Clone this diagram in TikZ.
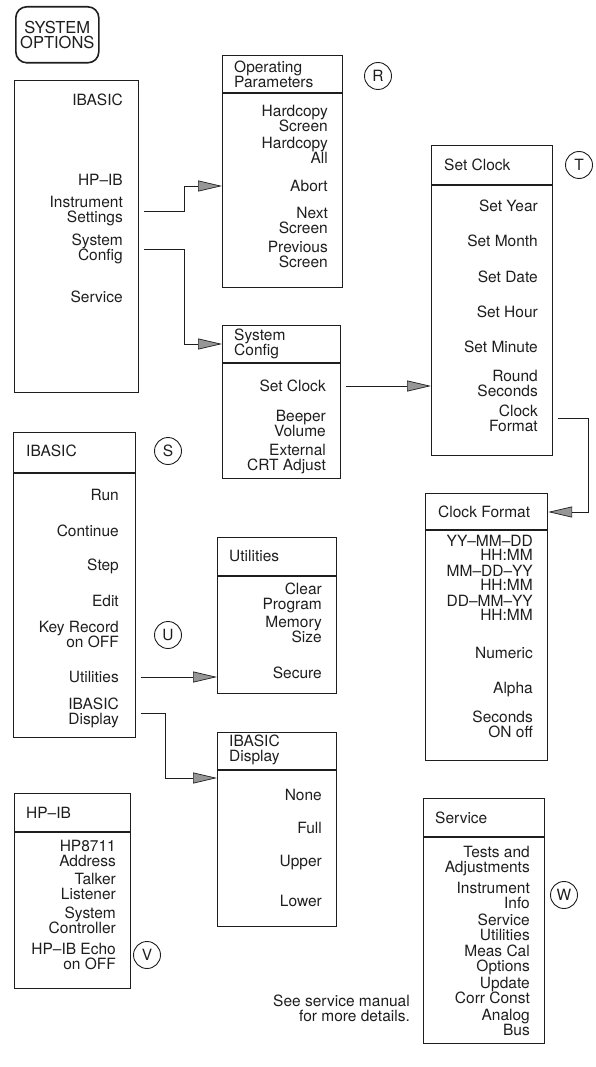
\documentclass[tikz,border=0pt]{standalone}
\usepackage{fontspec}
\setmainfont{TeX Gyre Heros}
\usepackage{tikz}
\usetikzlibrary{positioning, arrows.meta, shapes}
\definecolor{tinta}{RGB}{30, 30, 30}
\definecolor{trama}{RGB}{150, 150, 150}
\tikzset{
    menu/.style={draw=tinta, line width=1.2pt, rectangle, anchor=north west, inner sep=0pt},
    menuopt/.style={draw=tinta, line width=1.6pt, rectangle, rounded corners=11pt, anchor=north west, inner sep=0pt, align=center, text=tinta, font=\fontsize{16.5}{15.5}\selectfont},
    head/.style={anchor=west, inner sep=0pt, align=left, text=tinta},
    item/.style={anchor=east, inner sep=0pt, align=right, text=tinta},
    tight/.style={item, font=\fontsize{15.5}{14}\selectfont},
    tag/.style={draw=tinta, circle, line width=0.9pt, minimum size=27pt, inner sep=0pt, text=tinta},
    sep/.style={draw=tinta, line width=1.2pt},
    conn/.style={draw=tinta, line width=0.7pt, -{Triangle[length=24pt, width=11pt, fill=trama]}},
}
\begin{document}
\begin{tikzpicture}[x=1pt, y=-1pt, font=\fontsize{15.5}{15}\selectfont]
    \useasboundingbox (0,0) rectangle (596,1067);

    \node[menuopt, minimum width=83pt, minimum height=56pt] (opt) at (15,6) {SYSTEM\\OPTIONS};

    \node[menu, minimum width=124pt, minimum height=312pt] (main) at (14,80) {};
    \node[item] (maina) at (123,100) {IBASIC};
    \node[item] (mainb) at (123,180) {HP--IB};
    \node[item] (mainc) at (123,211) {Instrument\\Settings};
    \node[item] (maind) at (123,249) {System\\Config};
    \node[item] (maine) at (123,297) {Service};

    \node[menu, minimum width=120pt, minimum height=232pt] (op) at (222,55) {};
    \draw[sep] ([yshift=-38pt]op.north west) -- ([yshift=-38pt]op.north east);
    \node[head] (oph) at (234,74) {Operating\\Parameters};
    \node[item] (opa) at (328,118) {Hardcopy\\Screen};
    \node[item] (opb) at (328,150) {Hardcopy\\All};
    \node[item] (opc) at (328,186) {Abort};
    \node[item] (opd) at (328,220) {Next\\Screen};
    \node[item] (ope) at (328,254) {Previous\\Screen};
    \node[tag] (tagr) at (378,76) {R};

    \node[menu, minimum width=118pt, minimum height=153pt] (sc) at (222,325) {};
    \draw[sep] ([yshift=-38pt]sc.north west) -- ([yshift=-38pt]sc.north east);
    \node[head] (sch) at (234,344) {System\\Config};
    \node[item] (sca) at (326,386) {Set Clock};
    \node[item] (scb) at (326,423) {Beeper\\Volume};
    \node[item] (scc) at (326,459) {External\\CRT Adjust};

    \node[menu, minimum width=121pt, minimum height=310pt] (clk) at (431,145) {};
    \draw[sep] ([yshift=-40pt]clk.north west) -- ([yshift=-40pt]clk.north east);
    \node[head] (clkh) at (444,165) {Set Clock};
    \node[item] (clka) at (538,206) {Set Year};
    \node[item] (clkb) at (538,241) {Set Month};
    \node[item] (clkc) at (538,277) {Set Date};
    \node[item] (clkd) at (538,312) {Set Hour};
    \node[item] (clke) at (538,347) {Set Minute};
    \node[item] (clkf) at (538,383) {Round\\Seconds};
    \node[item] (clkg) at (538,418) {Clock\\Format};
    \node[tag] (tagt) at (579,165) {T};

    \node[menu, minimum width=122pt, minimum height=267pt] (cf) at (425,493) {};
    \draw[sep] ([yshift=-37pt]cf.north west) -- ([yshift=-37pt]cf.north east);
    \node[head] (cfh) at (438,512) {Clock Format};
    \node[tight] (cfa) at (533,548) {YY--MM--DD\\HH:MM};
    \node[tight] (cfb) at (533,578) {MM--DD--YY\\HH:MM};
    \node[tight] (cfc) at (533,608) {DD--MM--YY\\HH:MM};
    \node[item] (cfd) at (533,653) {Numeric};
    \node[item] (cfe) at (533,690) {Alpha};
    \node[item] (cff) at (533,724) {Seconds\\ON off};

    \node[menu, minimum width=122pt, minimum height=305pt] (ib) at (13,432) {};
    \draw[sep] ([yshift=-41pt]ib.north west) -- ([yshift=-41pt]ib.north east);
    \node[head] (ibh) at (26,451) {IBASIC};
    \node[item] (iba) at (119,495) {Run};
    \node[item] (ibb) at (119,531) {Continue};
    \node[item] (ibc) at (119,566) {Step};
    \node[item] (ibd) at (119,601) {Edit};
    \node[item] (ibe) at (119,634) {Key Record\\on OFF};
    \node[item] (ibf) at (119,677) {Utilities};
    \node[item] (ibg) at (119,713) {IBASIC\\Display};
    \node[tag] (tags) at (168,451) {S};
    \node[tag] (tagu) at (168,635) {U};

    \node[menu, minimum width=119pt, minimum height=156pt] (ut) at (217,537) {};
    \draw[sep] ([yshift=-39pt]ut.north west) -- ([yshift=-39pt]ut.north east);
    \node[head] (uth) at (229,556) {Utilities};
    \node[item] (uta) at (322,598) {Clear\\Program};
    \node[item] (utb) at (322,629) {Memory\\Size};
    \node[item] (utc) at (322,673) {Secure};

    \node[menu, minimum width=119pt, minimum height=194pt] (dsp) at (217,732) {};
    \draw[sep] ([yshift=-38pt]dsp.north west) -- ([yshift=-38pt]dsp.north east);
    \node[head] (dsph) at (229,750) {IBASIC\\Display};
    \node[item] (dspa) at (322,795) {None};
    \node[item] (dspb) at (322,828) {Full};
    \node[item] (dspc) at (322,863) {Upper};
    \node[item] (dspd) at (322,901) {Lower};

    \node[menu, minimum width=116pt, minimum height=195pt] (hp) at (14,793) {};
    \draw[sep] ([yshift=-39pt]hp.north west) -- ([yshift=-39pt]hp.north east);
    \node[head] (hph) at (26,813) {HP--IB};
    \node[item] (hpa) at (116,853) {HP8711\\Address};
    \node[item] (hpb) at (116,886) {Talker\\Listener};
    \node[item] (hpc) at (116,920) {System\\Controller};
    \node[item] (hpd) at (116,956) {HP--IB Echo\\on OFF};
    \node[tag] (tagv) at (147,955) {V};

    \node[menu, minimum width=121pt, minimum height=245pt] (sv) at (423,798) {};
    \draw[sep] ([yshift=-39pt]sv.north west) -- ([yshift=-39pt]sv.north east);
    \node[head] (svh) at (435,818) {Service};
    \node[item] (sva) at (530,861) {Tests and\\Adjustments};
    \node[item] (svb) at (530,895) {Instrument\\Info};
    \node[item] (svc) at (530,927) {Service\\Utilities};
    \node[item] (svd) at (530,960) {Meas Cal\\Options};
    \node[item] (sve) at (530,990) {Update\\Corr Const};
    \node[item] (svf) at (530,1022) {Analog\\Bus};
    \node[tag] (tagw) at (564,895) {W};

    \node[item] (note) at (410,1008) {See service manual\\for more details.};

    \draw[conn] ([xshift=5pt]main.east |- mainc) -- ++(40,0) |- (op.west |- opc);
    \draw[conn] ([xshift=5pt]main.east |- maind) -- ++(40,0) |- (sc.west |- sch);
    \draw[conn] ([xshift=5pt]sc.east |- sca) -- (clk.west |- sca);
    \draw[conn] ([xshift=5pt]clk.east |- clkg) -- ++(30,0) |- (cf.east |- cfh);
    \draw[conn] ([xshift=5pt]ib.east |- ibf) -- (ut.west |- ibf);
    \draw[conn] ([xshift=5pt]ib.east |- ibg) -- ++(24,0) |- ([yshift=-46pt]dsp.north west);
\end{tikzpicture}
\end{document}
